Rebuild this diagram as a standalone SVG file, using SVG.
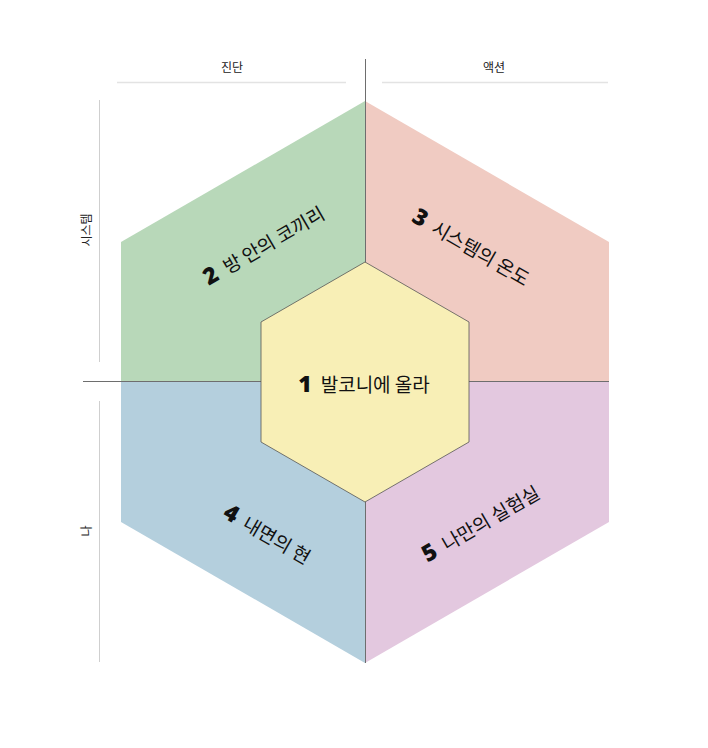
<svg xmlns="http://www.w3.org/2000/svg" width="708" height="748" viewBox="0 0 708 748">
<style>
.lbl{font-family:"Noto Sans CJK KR","Noto Sans",sans-serif;font-size:12px;fill:#222;text-anchor:middle;dominant-baseline:central}
.t{font-family:"Noto Sans CJK KR","Noto Sans",sans-serif;font-size:19px;fill:#111;text-anchor:middle;dominant-baseline:central}
.n{font-family:"Open Sans","Noto Sans",sans-serif;font-weight:800;font-size:23px}
.guide{stroke:#e3e3e3;stroke-width:1.5;fill:none}
.vguide{stroke:#cfcfcf;stroke-width:1;fill:none}
.axis{stroke:#6e6e6e;stroke-width:1;fill:none}
</style>
<rect width="708" height="748" fill="#ffffff"/>
<g id="guides">
<line class="guide" x1="117" y1="82.5" x2="346" y2="82.5"/>
<line class="guide" x1="382" y1="82.5" x2="608" y2="82.5"/>
<line class="vguide" x1="99.5" y1="100" x2="99.5" y2="362"/>
<line class="vguide" x1="99.5" y1="401" x2="99.5" y2="662"/>
<text class="lbl" x="232" y="66">진단</text>
<text class="lbl" x="494" y="66">액션</text>
<text class="lbl" transform="translate(85,230) rotate(-90)">시스템</text>
<text class="lbl" transform="translate(85,531) rotate(-90)">나</text>
</g>
<g id="q2">
<polygon points="365,101 121,242 121,382 365,382" fill="#b8d8b9"/>
<text class="t" transform="translate(263,244) rotate(-30)"><tspan class="n">2</tspan><tspan dx="9">방 안의 코끼리</tspan></text>
</g>
<g id="q3">
<polygon points="365,101 609,242 609,382 365,382" fill="#f0cbc2"/>
<text class="t" transform="translate(472,246) rotate(30)"><tspan class="n">3</tspan><tspan dx="9">시스템의 온도</tspan></text>
</g>
<g id="q4">
<polygon points="365,663 121,522 121,382 365,382" fill="#b4cfdd"/>
<text class="t" transform="translate(268,533) rotate(30)"><tspan class="n">4</tspan><tspan dx="9">내면의 현</tspan></text>
</g>
<g id="q5">
<polygon points="365,663 609,522 609,382 365,382" fill="#e3c8df"/>
<text class="t" transform="translate(480,522) rotate(-30)"><tspan class="n">5</tspan><tspan dx="9">나만의 실험실</tspan></text>
</g>
<g id="connectors">
<line class="axis" x1="365.5" y1="59" x2="365.5" y2="663"/>
<line class="axis" x1="83" y1="381.5" x2="609" y2="381.5"/>
</g>
<g id="q1">
<polygon points="365,262 469,322 469,442 365,502 261,442 261,322" fill="#f8efb6" stroke="#555" stroke-width="0.8"/>
<text class="t" x="364" y="383"><tspan class="n">1</tspan><tspan dx="9">발코니에 올라</tspan></text>
</g>
</svg>
